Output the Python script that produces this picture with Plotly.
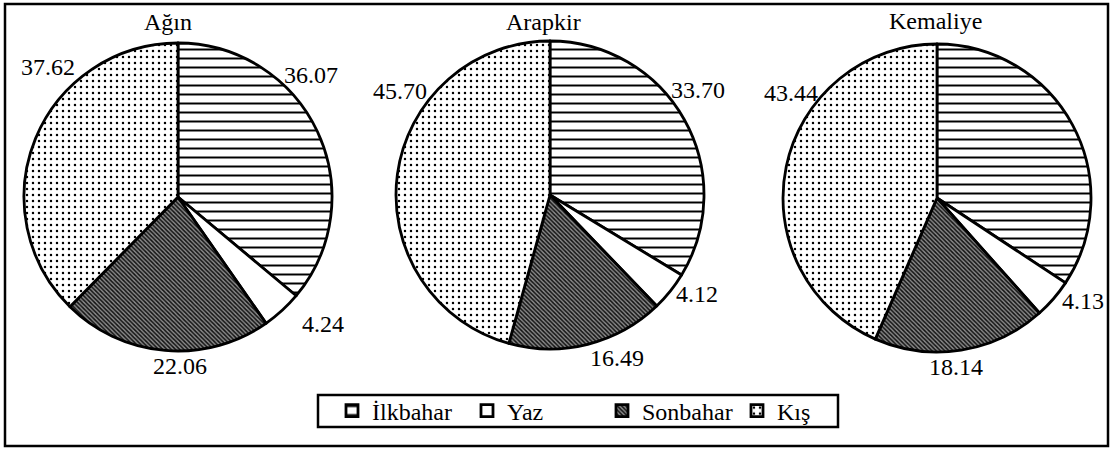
import plotly.graph_objects as go

seasons = ["İlkbahar", "Yaz", "Sonbahar", "Kış"]
places = ["Ağın", "Arapkir", "Kemaliye"]
agin = [36.07, 4.24, 22.06, 37.62]
arapkir = [33.70, 4.12, 16.49, 45.70]
kemaliye = [34.29, 4.13, 18.14, 43.44]
series = [agin, arapkir, kemaliye]
# the reference prints no value on Kemaliye's İlkbahar slice
shown = [[True, True, True, True], [True, True, True, True], [False, True, True, True]]

FONT = "Liberation Serif"
W, H = 1113, 450

# layout (pixels from the top-left corner)
pie_centers = [(178, 197), (550, 195), (937, 198)]
radius = 154
title_pos = [(168, 22), (543, 22), (935, 21)]
label_pos = [
    [(311, 75), (323, 324), (180, 366), (48, 67)],
    [(698, 90), (697, 294), (617, 358), (400, 91)],
    [(0, 0), (1083, 301), (956, 367), (791, 93)],
]
legend_box = (318, 395, 838, 427)

shapes_pat = ["-", "", "\\", "."]
fg = ["black", "black", "#111111", "black"]
bg = ["white", "white", "#8a8a8a", "white"]
sizes = [9, 8, 3, 6]
solid = [0.22, 0.1, 0.5, 0.13]

fig = go.Figure()
for name, vals, (cx, cy) in zip(places, series, pie_centers):
    xd = [(cx - radius - 20) / W, (cx + radius + 20) / W]
    yc = 1 - cy / H
    yd = [yc - radius / H, yc + radius / H]
    fig.add_trace(go.Pie(
        labels=seasons, values=vals, name=name,
        sort=False, direction="clockwise", rotation=0,
        domain=dict(x=xd, y=yd), automargin=False,
        textinfo="none",
        marker=dict(
            colors=bg,
            line=dict(color="black", width=2.8),
            pattern=dict(shape=shapes_pat, fgcolor=fg, bgcolor=bg,
                         size=sizes, solidity=solid, fillmode="replace"),
        ),
        hoverinfo="label+value",
    ))

for name, (tx, ty) in zip(places, title_pos):
    fig.add_annotation(text=name, x=tx / W, y=1 - ty / H, xref="paper", yref="paper",
                       showarrow=False, font=dict(family=FONT, size=24, color="black"),
                       xanchor="center", yanchor="middle")

for vals, flags, poss in zip(series, shown, label_pos):
    for v, f, (lx, ly) in zip(vals, flags, poss):
        if not f:
            continue
        fig.add_annotation(text=f"{v:.2f}", x=lx / W, y=1 - ly / H, xref="paper", yref="paper",
                           showarrow=False, font=dict(family=FONT, size=24, color="black"),
                           xanchor="center", yanchor="middle")

# outer frame
fig.add_shape(type="rect", xref="paper", yref="paper",
              x0=5 / W, x1=1 - 5 / W, y0=4 / H, y1=1 - 4 / H,
              line=dict(color="black", width=2.5))
# legend frame
lx0, ly0, lx1, ly1 = legend_box
fig.add_shape(type="rect", xref="paper", yref="paper",
              x0=lx0 / W, x1=lx1 / W, y0=1 - ly1 / H, y1=1 - ly0 / H,
              line=dict(color="black", width=2.5), fillcolor="white", layer="below")

fig.update_layout(
    width=W, height=H, autosize=False,
    margin=dict(l=0, r=0, t=0, b=0, autoexpand=False),
    paper_bgcolor="white", plot_bgcolor="white",
    font=dict(family=FONT, size=24, color="black"),
    legend=dict(orientation="h", x=332 / W, xanchor="left",
                y=1 - (ly0 + ly1) / 2 / H, yanchor="middle",
                borderwidth=0, bgcolor="rgba(0,0,0,0)",
                font=dict(family=FONT, size=24, color="black"),
                itemwidth=30, entrywidth=90, entrywidthmode="pixels",
                traceorder="normal"),
)

fig.write_html("out.html", config={"displayModeBar": False},
               post_script="document.body.style.margin='0';")
